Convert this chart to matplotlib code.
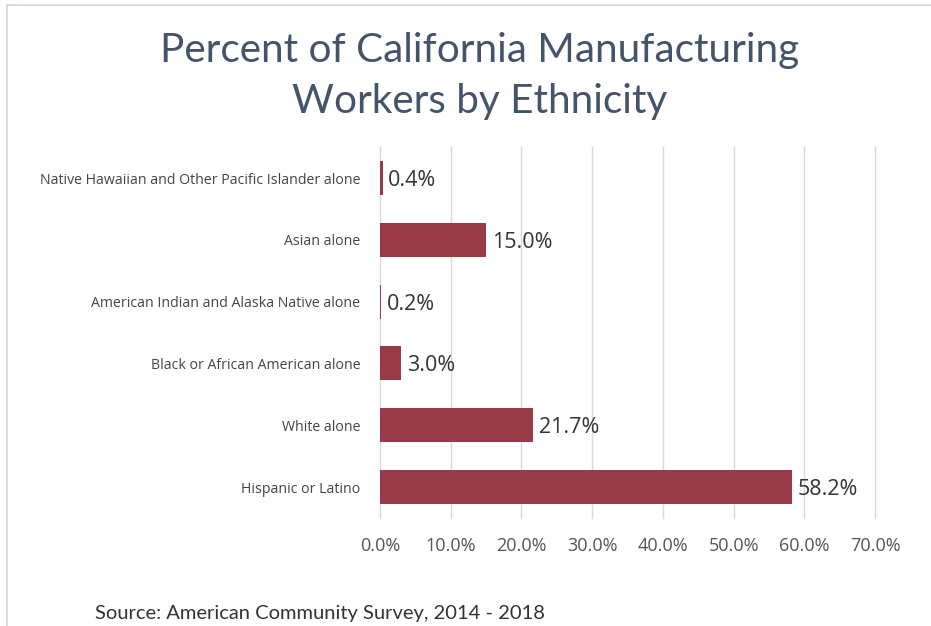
import matplotlib
matplotlib.use("Agg")
import matplotlib.pyplot as plt
from matplotlib.lines import Line2D

categories = ["Hispanic or Latino", "White alone", "Black or African American alone",
              "American Indian and Alaska Native alone", "Asian alone",
              "Native Hawaiian and Other Pacific Islander alone"]
values = [58.2, 21.7, 3.0, 0.2, 15.0, 0.4]
xticks = [0, 10, 20, 30, 40, 50, 60, 70]

bar_color = "#983a48"

fig = plt.figure(figsize=(9.31, 6.26), dpi=100)
ax = fig.add_axes([0.408, 0.1725, 0.532, 0.5925])

ax.barh(range(len(categories)), values, height=0.55, color=bar_color)
for i, v in enumerate(values):
    ax.text(v + 0.8, i - 0.04, f"{v:.1f}%", va="center", ha="left",
            fontsize=15.5, color="#333333", family="Open Sans")

ax.set_xlim(0, 70)
ax.set_ylim(-0.5, len(categories) - 0.5)
ax.set_xticks(xticks)
ax.set_xticklabels([f"{t:.1f}%" for t in xticks], fontsize=13, color="#555555", family="Open Sans")
ax.set_yticks(range(len(categories)))
ax.set_yticklabels(categories, fontsize=10.2, color="#444444", family="Open Sans")
ax.tick_params(axis="both", length=0)
ax.tick_params(axis="x", pad=14)
ax.tick_params(axis="y", pad=14)
ax.grid(axis="x", color="#d9d9d9", linewidth=1)
for gl in ax.get_xgridlines():
    gl.set_clip_on(False)
ax.set_axisbelow(True)
for s in ax.spines.values():
    s.set_visible(False)

fig.text(0.515, 0.92, "Percent of California Manufacturing", ha="center", va="center",
         fontsize=29.2, color="#44546a", family="Lato")
fig.text(0.515, 0.838, "Workers by Ethnicity", ha="center", va="center",
         fontsize=29.2, color="#44546a", family="Lato")
fig.text(0.102, 0.02, "Source: American Community Survey, 2014 - 2018", ha="left", va="center",
         fontsize=14.5, color="#333333", family="Lato")

# thin frame lines at top and left
fig.add_artist(Line2D([0.0075, 1.0], [0.992, 0.992], color="#c9d5e6", linewidth=1.2))
fig.add_artist(Line2D([0.0075, 0.0075], [0.0, 0.992], color="#c9d5e6", linewidth=1.2))

fig.savefig("out.png", dpi=100)
